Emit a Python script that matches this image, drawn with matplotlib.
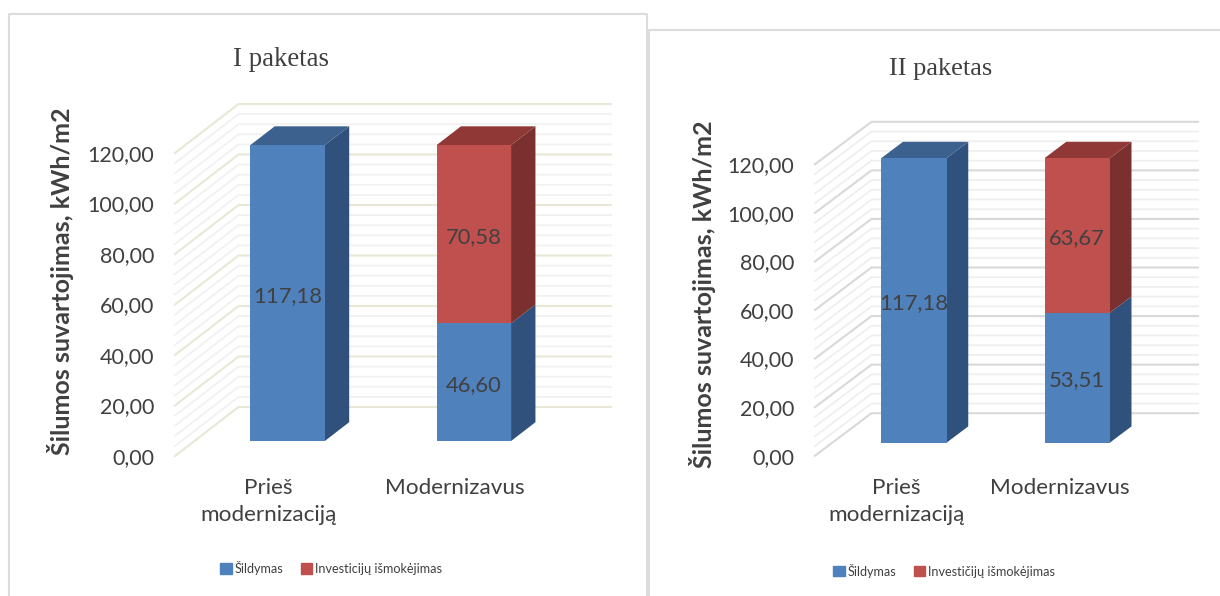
import matplotlib
matplotlib.use("Agg")
import matplotlib.pyplot as plt
from matplotlib.lines import Line2D
from matplotlib.patches import Polygon, Patch

W, H = 1220, 596

categories = ["Prieš\nmodernizaciją", "Modernizavus"]
ticks = [0, 20, 40, 60, 80, 100, 120]
minor_ticks = [v for v in range(0, 121, 4) if v % 20]

heating_1 = [117.18, 46.60]
invest_1 = [0, 70.58]
heating_2 = [117.18, 53.51]
invest_2 = [0, 63.67]

series_1 = "Šildymas"
series_2_a = "Investicijų išmokėjimas"
series_2_b = "Investičijų išmokėjimas"

BLUE = ("#4f81bd", "#3c618f", "#30517b")
RED = ("#c0504d", "#8f3835", "#7a302e")
TEXT = "#404040"

plt.rcParams["font.family"] = ["Lato", "DejaVu Sans"]


def comma(v):
    return f"{v:.2f}".replace(".", ",")


def px_axes(fig, x0, x1, y_top, y_bottom):
    return fig.add_axes([x0 / W, 1 - y_bottom / H, (x1 - x0) / W, (y_bottom - y_top) / H])


def frame_line(fig, xs, ys):
    fig.add_artist(Line2D([x / W for x in xs], [1 - y / H for y in ys], color="#dcdcdc", lw=1.5))


def draw_panel(ax, heating, invest, depth_x, depth_y, major_col, minor_col, lab_dy):

    def proj(x, v, d):
        return (x + d * depth_x, v + d * depth_y)

    ax.set_xlim(0, 2)
    ax.set_ylim(0, 120)
    ax.patch.set_visible(False)
    for s in ax.spines.values():
        s.set_visible(False)

    # -----------------------
    # WALLS
    # -----------------------
    for vals, col, lw, z in [(minor_ticks, minor_col, 1.3, 1), (ticks, major_col, 1.5, 2)]:
        for v in vals:
            pts = [proj(0, v, 0), proj(0, v, 1), proj(2, v, 1)]
            ax.plot(*zip(*pts), color=col, lw=lw, zorder=z, clip_on=False, solid_joinstyle="miter")

    # -----------------------
    # BARS
    # -----------------------
    half = 0.2
    front, back = 0.306, 0.69
    for i in range(len(categories)):
        x0, x1 = i + 0.5 - half, i + 0.5 + half
        base = 0
        top_col = BLUE[1]
        for val, cols in [(heating[i], BLUE), (invest[i], RED)]:
            if val == 0:
                continue
            t = base + val
            face = [proj(x0, base, front), proj(x1, base, front), proj(x1, t, front), proj(x0, t, front)]
            side = [proj(x1, base, front), proj(x1, base, back), proj(x1, t, back), proj(x1, t, front)]
            ax.add_patch(Polygon(side, color=cols[2], lw=0, zorder=4, clip_on=False))
            ax.add_patch(Polygon(face, color=cols[0], lw=0, zorder=5, clip_on=False))
            lx, ly = proj(i + 0.5, base + val / 2, front)
            ax.text(lx, ly + lab_dy, comma(val), ha="center", va="center", fontsize=15.8,
                    color=TEXT, zorder=7)
            base = t
            top_col = cols[1]
        roof = [proj(x0, base, front), proj(x1, base, front), proj(x1, base, back), proj(x0, base, back)]
        ax.add_patch(Polygon(roof, color=top_col, lw=0, zorder=4, clip_on=False))

    # -----------------------
    # AXES TEXT
    # -----------------------
    ax.set_yticks(ticks)
    ax.set_yticklabels([comma(v) for v in ticks], fontsize=15.5, color=TEXT)
    ax.set_xticks([0.5, 1.5])
    ax.set_xticklabels(categories, fontsize=16.2, color=TEXT, linespacing=1.42)
    ax.tick_params(axis="y", length=0, pad=15)
    ax.tick_params(axis="x", length=0, pad=16)
    ax.set_ylabel("Šilumos suvartojimas, kWh/m2", fontsize=18, fontweight="bold", color=TEXT, va="center")


def legend(fig, x, y, label2):
    handles = [Patch(color=BLUE[0], label=series_1), Patch(color=RED[0], label=label2)]
    fig.legend(handles=handles, loc="center", bbox_to_anchor=(x / W, 1 - y / H), ncol=2, frameon=False,
               fontsize=9.1, labelcolor=TEXT, handlelength=0.9, handleheight=0.9,
               handletextpad=0.2, columnspacing=1.4, borderpad=0)


fig = plt.figure(figsize=(W / 100, H / 100), dpi=100, facecolor="white")

# frames of the two pasted charts
frame_line(fig, [9, 9, 647, 647], [596, 14, 14, 596])
frame_line(fig, [649, 649, 1220], [596, 30, 30])

ax1 = px_axes(fig, 175, 547.5, 153, 456)
draw_panel(ax1, heating_1, invest_1, 0.341, 19.4, "#e9e7d6", "#f1f1f1", -1)
ax1.yaxis.set_label_coords((61 - 175) / 372.5, (456 - 281) / 303)

ax2 = px_axes(fig, 815, 1141.5, 164.3, 455.7)
draw_panel(ax2, heating_2, invest_2, 0.346, 17.5, "#d9d9d9", "#efefef", -1)
ax2.yaxis.set_label_coords((702 - 815) / 326.5, (455.7 - 294) / 291.4)

fig.text(281 / W, 1 - 60 / H, "I paketas", family="Liberation Serif", fontsize=19.3,
         color=TEXT, ha="center", va="center")
fig.text(941 / W, 1 - 68.5 / H, "II paketas", family="Liberation Serif", fontsize=19,
         color=TEXT, ha="center", va="center")

legend(fig, 331, 568, series_2_a)
legend(fig, 944, 570.5, series_2_b)

fig.savefig("out.png", dpi=100)
